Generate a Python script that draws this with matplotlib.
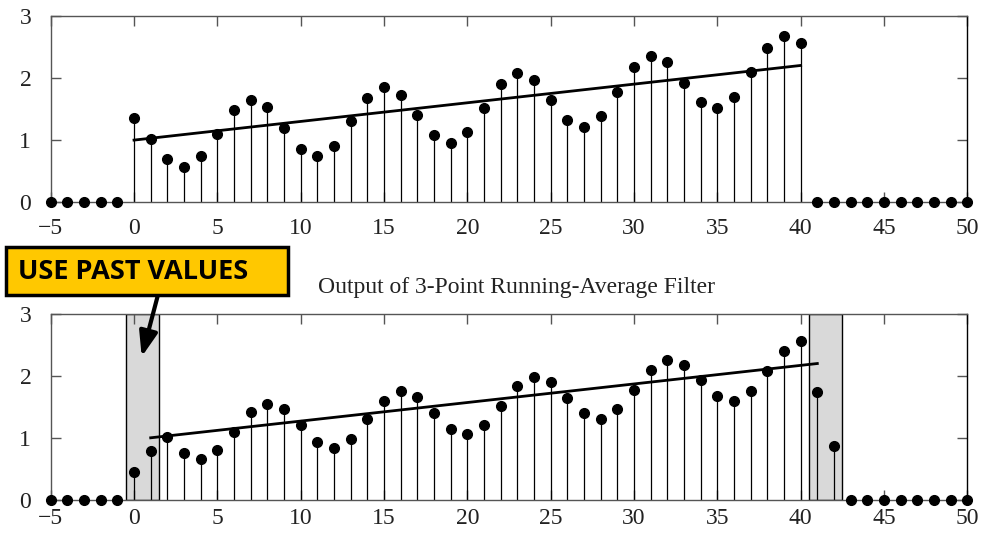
import matplotlib
matplotlib.use("Agg")
import matplotlib.pyplot as plt
from matplotlib.patches import Rectangle

# input signal x[n], n = 0..40 (zero elsewhere)
n_sig = list(range(0, 41))
x_vals = [1.36, 1.02, 0.69, 0.56, 0.74, 1.10, 1.48, 1.65, 1.53, 1.19,
          0.86, 0.75, 0.91, 1.30, 1.67, 1.86, 1.73, 1.40, 1.08, 0.96,
          1.13, 1.52, 1.90, 2.08, 1.97, 1.65, 1.32, 1.21, 1.39, 1.77,
          2.17, 2.35, 2.25, 1.92, 1.61, 1.51, 1.69, 2.09, 2.48, 2.67,
          2.56]
n_zero_top = [-5, -4, -3, -2, -1] + list(range(41, 51))

# output of 3-point running average, n = 0..42
n_out = list(range(0, 43))
y_vals = [0.45, 0.79, 1.02, 0.76, 0.66, 0.80, 1.10, 1.41, 1.55, 1.46,
          1.20, 0.94, 0.84, 0.98, 1.30, 1.60, 1.75, 1.66, 1.40, 1.15,
          1.06, 1.20, 1.52, 1.83, 1.99, 1.90, 1.64, 1.40, 1.30, 1.46,
          1.78, 2.10, 2.26, 2.17, 1.93, 1.68, 1.59, 1.76, 2.08, 2.41,
          2.57, 1.74, 0.86]
n_zero_bot = [-5, -4, -3, -2, -1] + list(range(43, 51))

# underlying trend lines
trend_top_x = [0, 40]
trend_top_y = [1.0, 2.2]
trend_bot_x = [1, 41]
trend_bot_y = [1.0, 2.2]

# shaded edge regions in the output
shade_spans = [(-0.5, 1.5), (40.5, 42.5)]

xticks = list(range(-5, 51, 5))
yticks = [0, 1, 2, 3]

title = "Output of 3-Point Running-Average Filter"
note = "USE PAST VALUES"

W, H = 991, 534
fig = plt.figure(figsize=(W / 100, H / 100), dpi=100)

serif = "Liberation Serif"
spine_col = "#555555"


def setup(ax, xpad):
    ax.set_xlim(-5, 50)
    ax.set_ylim(0, 3)
    ax.set_xticks(xticks)
    ax.set_yticks(yticks)
    ax.tick_params(direction="in", length=7, width=1, color=spine_col,
                   top=True, right=True, labelsize=17)
    ax.tick_params(axis="x", pad=xpad)
    ax.tick_params(axis="y", pad=14)
    for lab in ax.get_xticklabels() + ax.get_yticklabels():
        lab.set_fontfamily(serif)
        lab.set_color("#222222")
    for s in ax.spines.values():
        s.set_color(spine_col)
        s.set_linewidth(1)
    ax.spines["right"].set_color("black")


def stems(ax, n, v, zeros):
    ax.vlines(n, 0, v, colors="black", linewidth=0.9, zorder=2)
    ax.plot(n, v, "o", color="black", markersize=7, zorder=4, clip_on=False)
    ax.plot(zeros, [0] * len(zeros), "o", color="black", markersize=7,
            zorder=4, clip_on=False)


left = 50.7 / W
width = (967.3 - 50.7) / W

ax1 = fig.add_axes([left, 1 - 202.3 / H, width, (202.3 - 15.7) / H])
setup(ax1, 11)
stems(ax1, n_sig, x_vals, n_zero_top)
ax1.plot(trend_top_x, trend_top_y, color="black", linewidth=2, zorder=3)

ax2 = fig.add_axes([left, 1 - 499.7 / H, width, (499.7 - 314) / H])
setup(ax2, 6)
for a, b in shade_spans:
    ax2.axvspan(a, b, facecolor="#d9d9d9", edgecolor="black", linewidth=1,
                zorder=1)
stems(ax2, n_out, y_vals, n_zero_bot)
ax2.plot(trend_bot_x, trend_bot_y, color="black", linewidth=2, zorder=3)

fig.text(516 / W, 1 - 287 / H, title, ha="center", va="center",
         fontsize=17, family=serif, color="#222222")

# callout box
bx0, bx1, by0, by1 = 6, 288, 247, 295
fig.patches.append(Rectangle((bx0 / W, 1 - by1 / H), (bx1 - bx0) / W,
                             (by1 - by0) / H, transform=fig.transFigure,
                             facecolor="#ffc800", edgecolor="black",
                             linewidth=2.5, zorder=5))
fig.text(18 / W, 1 - 272 / H, note, ha="left", va="center", fontsize=19.5,
         fontweight="bold", family="Open Sans", color="black", zorder=6)

ax2.annotate("", xy=(0.46, 2.31), xycoords="data",
             xytext=(159 / W, 1 - 291 / H), textcoords="figure fraction",
             arrowprops=dict(arrowstyle="-|>,head_length=1.5,head_width=0.55",
                             color="black", linewidth=3,
                             shrinkA=0, shrinkB=0),
             annotation_clip=False, zorder=6)

fig.savefig("out.png", dpi=100)
